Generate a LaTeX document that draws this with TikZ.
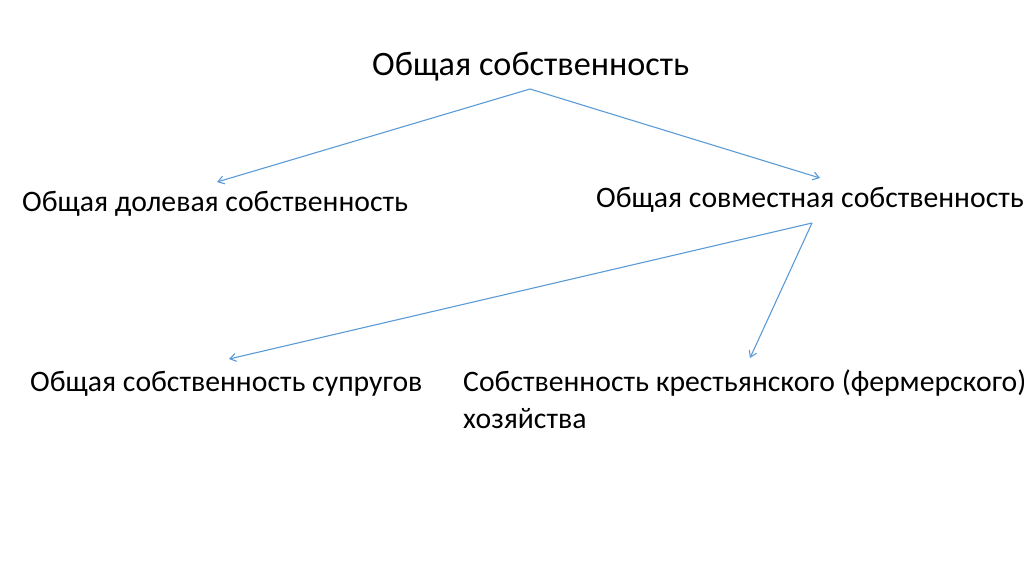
\documentclass[tikz,border=0pt]{standalone}
\usepackage{fontspec}
\setmainfont{Carlito}
\usetikzlibrary{arrows.meta}
\definecolor{linkblue}{HTML}{5B9BD5}

\begin{document}
\begin{tikzpicture}[x=1pt,y=-1pt,
    lbl/.style={anchor=base west,inner sep=0pt,font=\fontsize{29.7}{37}\selectfont},
    link/.style={-{Straight Barb[length=6pt,width=8pt]},linkblue,line width=1.1pt}]
    \useasboundingbox (0,0) rectangle (1024,574);

    \node[lbl,font=\fontsize{34.2}{40}\selectfont] (all) at (372,75) {Общая собственность};
    \node[lbl] (share) at (22,211) {Общая долевая собственность};
    \node[lbl] (joint) at (596,207) {Общая совместная собственность};
    \node[lbl] (spouse) at (30,391) {Общая собственность супругов};
    \node[lbl,align=left] (farm) at (463,428) {Собственность крестьянского (фермерского)\\хозяйства};

    \coordinate (allout) at (530,89);
    \coordinate (jointout) at (812,223);
    \coordinate (sharein) at (217,182);
    \coordinate (jointin) at (820,178);
    \coordinate (spousein) at (229,359);
    \coordinate (farmin) at (750,358);

    \draw[link] (allout) -- (sharein);
    \draw[link] (allout) -- (jointin);
    \draw[link] (jointout) -- (spousein);
    \draw[link] (jointout) -- (farmin);
\end{tikzpicture}
\end{document}
